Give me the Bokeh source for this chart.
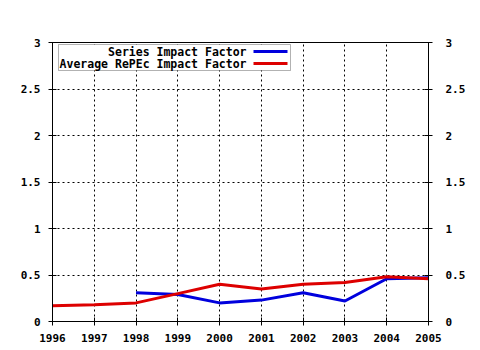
from bokeh.plotting import figure
from bokeh.models import LinearAxis, FixedTicker, Label, BoxAnnotation, Range1d
from bokeh.embed import file_html
from bokeh.resources import INLINE

years = [1996, 1997, 1998, 1999, 2000, 2001, 2002, 2003, 2004, 2005]
series_years = [1998, 1999, 2000, 2001, 2002, 2003, 2004, 2005]
series_if = [0.31, 0.29, 0.20, 0.23, 0.31, 0.22, 0.46, 0.47]
avg_if = [0.17, 0.18, 0.20, 0.30, 0.40, 0.35, 0.40, 0.42, 0.48, 0.46]
y_ticks = [0, 0.5, 1, 1.5, 2, 2.5, 3]
y_labels = {0: "0", 0.5: "0.5", 1: "1", 1.5: "1.5", 2: "2", 2.5: "2.5", 3: "3"}
legend_labels = ["Series Impact Factor", "Average RePEc Impact Factor"]
colors = ["#0000dd", "#dd0000"]

FONT = "DejaVu Sans Mono"

p = figure(width=480, height=350, output_backend="svg", toolbar_location=None,
           x_range=Range1d(1996, 2005), y_range=Range1d(0, 3),
           min_border_left=52, min_border_right=52, min_border_top=42, min_border_bottom=29,
           background_fill_color="white", border_fill_color="white")
p.outline_line_color = "black"

p.line(series_years, series_if, line_color=colors[0], line_width=3)
p.line(years, avg_if, line_color=colors[1], line_width=3)

def style_axis(ax):
    ax.axis_line_color = "black"
    ax.major_tick_line_color = "black"
    ax.minor_tick_line_color = None
    ax.major_tick_in = 4
    ax.major_tick_out = 4
    ax.major_label_text_font = FONT
    ax.major_label_text_font_style = "bold"
    ax.major_label_text_font_size = "11px"
    ax.major_label_text_color = "black"

xa = p.xaxis[0]
xa.ticker = FixedTicker(ticks=years)
xa.major_label_overrides = {y: str(y) for y in years}
xa.major_label_standoff = 8
style_axis(xa)

ya = p.yaxis[0]
ya.ticker = FixedTicker(ticks=y_ticks)
ya.major_label_overrides = y_labels
ya.major_label_standoff = 8
style_axis(ya)

ra = LinearAxis(ticker=FixedTicker(ticks=y_ticks), major_label_overrides=y_labels)
style_axis(ra)
ra.major_label_standoff = 13
p.add_layout(ra, "right")

for g in (p.xgrid[0], p.ygrid[0]):
    g.grid_line_color = "black"
    g.grid_line_dash = "2 3"
    g.grid_line_width = 1
p.xgrid[0].ticker = FixedTicker(ticks=years)
p.ygrid[0].ticker = FixedTicker(ticks=y_ticks)

# legend (text right-aligned, line sample on the right)
p.add_layout(BoxAnnotation(left=6, right=238, top=277, bottom=251,
                           left_units="screen", right_units="screen",
                           top_units="screen", bottom_units="screen",
                           fill_color="white", fill_alpha=1,
                           line_color="black", line_width=1))
for i, (lab, col) in enumerate(zip(legend_labels, colors)):
    yc = 270 - i * 12
    p.add_layout(Label(x=194, y=yc, x_units="screen", y_units="screen", text=lab,
                       text_align="right", text_baseline="middle",
                       text_font=FONT, text_font_style="bold", text_font_size="11.5px",
                       text_color="black"))
    p.add_layout(BoxAnnotation(left=201, right=235, top=yc + 1.5, bottom=yc - 1.5,
                               left_units="screen", right_units="screen",
                               top_units="screen", bottom_units="screen",
                               fill_color=col, fill_alpha=1, line_color=None))

open("out.html", "w").write(file_html(p, INLINE))
